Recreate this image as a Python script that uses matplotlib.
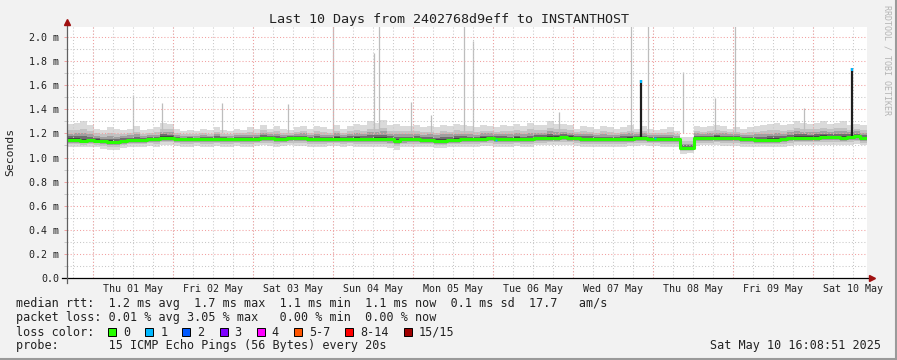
import numpy as np
import matplotlib
matplotlib.use('Agg')
import matplotlib.pyplot as plt
from matplotlib.lines import Line2D
from matplotlib.patches import Rectangle

plt.rcParams['font.family'] = 'DejaVu Sans Mono'

# ---- data (ms), 2 hour bins starting at 2025-04-30 16:08:51 ----
start = np.datetime64('2025-04-30T16:08:51')
end = np.datetime64('2025-05-10T16:08:51')

median = [
    1.145, 1.145, 1.14, 1.145,
    1.14, 1.135, 1.13, 1.13, 1.14, 1.145, 1.145, 1.145, 1.15, 1.15, 1.165, 1.165,
    1.155, 1.15, 1.15, 1.15, 1.15, 1.15, 1.155, 1.15, 1.15, 1.155, 1.155, 1.15,
    1.155, 1.16, 1.16, 1.155, 1.155, 1.16, 1.16, 1.16, 1.155, 1.155, 1.15, 1.155,
    1.155, 1.15, 1.155, 1.155, 1.15, 1.15, 1.155, 1.155, 1.15, 1.14, 1.15, 1.15,
    1.15, 1.145, 1.145, 1.14, 1.14, 1.145, 1.145, 1.15, 1.15, 1.15, 1.155, 1.16,
    1.155, 1.15, 1.15, 1.155, 1.15, 1.15, 1.16, 1.16, 1.165, 1.165, 1.17, 1.165,
    1.16, 1.155, 1.155, 1.15, 1.15, 1.15, 1.15, 1.155, 1.155, 1.16, 1.16, 1.155,
    1.155, 1.155, 1.15, 1.15, 1.08, 1.08, 1.16, 1.16, 1.16, 1.165, 1.16, 1.16,
    1.16, 1.155, 1.15, 1.145, 1.145, 1.145, 1.145, 1.15, 1.16, 1.165, 1.165, 1.165,
    1.165, 1.17, 1.17, 1.17, 1.165, 1.17, 1.175, 1.16,
]
smoke_hi = [
    1.28, 1.29, 1.30, 1.27,
    1.24, 1.23, 1.25, 1.24, 1.23, 1.24, 1.26, 1.23, 1.24, 1.25, 1.29, 1.28,
    1.24, 1.22, 1.23, 1.22, 1.24, 1.23, 1.25, 1.23, 1.22, 1.24, 1.23, 1.25,
    1.24, 1.27, 1.24, 1.26, 1.24, 1.23, 1.25, 1.26, 1.24, 1.26, 1.25, 1.24,
    1.27, 1.24, 1.26, 1.28, 1.27, 1.30, 1.29, 1.31, 1.27, 1.28, 1.26, 1.26,
    1.27, 1.25, 1.26, 1.25, 1.27, 1.26, 1.28, 1.27, 1.26, 1.25, 1.27, 1.26,
    1.25, 1.27, 1.26, 1.28, 1.26, 1.29, 1.27, 1.27, 1.30, 1.28, 1.28, 1.27,
    1.24, 1.26, 1.25, 1.24, 1.26, 1.25, 1.24, 1.25, 1.27, 1.24, 1.26, 1.24,
    1.23, 1.24, 1.25, 1.22, 1.17, 1.17, 1.26, 1.25, 1.26, 1.27, 1.26, 1.24,
    1.25, 1.24, 1.25, 1.26, 1.27, 1.28, 1.29, 1.27, 1.28, 1.30, 1.29, 1.28,
    1.29, 1.30, 1.28, 1.29, 1.30, 1.27, 1.28, 1.27,
]
smoke_lo = [
    1.09, 1.09, 1.085, 1.09,
    1.085, 1.07, 1.06, 1.065, 1.08, 1.085, 1.09, 1.09, 1.095, 1.09, 1.10, 1.10,
    1.095, 1.09, 1.09, 1.095, 1.09, 1.09, 1.095, 1.09, 1.09, 1.095, 1.09, 1.09,
    1.095, 1.10, 1.095, 1.09, 1.095, 1.10, 1.095, 1.095, 1.09, 1.09, 1.09, 1.095,
    1.095, 1.09, 1.095, 1.09, 1.09, 1.09, 1.085, 1.09, 1.08, 1.06, 1.085, 1.09,
    1.09, 1.085, 1.085, 1.08, 1.08, 1.085, 1.09, 1.09, 1.09, 1.09, 1.095, 1.095,
    1.09, 1.09, 1.09, 1.095, 1.09, 1.09, 1.10, 1.10, 1.10, 1.10, 1.105, 1.10,
    1.095, 1.09, 1.09, 1.09, 1.09, 1.09, 1.09, 1.09, 1.095, 1.095, 1.10, 1.095,
    1.095, 1.09, 1.09, 1.09, 1.03, 1.035, 1.095, 1.10, 1.10, 1.10, 1.095, 1.095,
    1.095, 1.09, 1.09, 1.085, 1.085, 1.085, 1.09, 1.09, 1.095, 1.10, 1.10, 1.10,
    1.10, 1.10, 1.105, 1.10, 1.10, 1.105, 1.11, 1.10,
]

# single pings far above the smoke
spike_times = ['2025-05-01T12:00', '2025-05-01T20:40', '2025-05-02T14:38',
               '2025-05-03T10:26', '2025-05-03T23:55', '2025-05-04T12:15',
               '2025-05-04T13:45', '2025-05-04T23:20', '2025-05-05T05:20',
               '2025-05-05T15:15', '2025-05-05T17:57', '2025-05-06T19:45',
               '2025-05-07T17:20', '2025-05-07T22:26', '2025-05-08T08:56',
               '2025-05-08T18:32', '2025-05-09T00:32', '2025-05-09T21:14']
spike_vals = [1.52, 1.45, 1.45, 1.44, 2.1, 1.87, 2.1, 1.46, 1.35,
              2.1, 1.97, 1.38, 2.1, 2.1, 1.71, 1.49, 2.1, 1.41]

# median jumps during loss
jump_times = ['2025-05-07T20:20', '2025-05-10T11:38']
jump_vals = [1.645, 1.74]
loss1_times = ['2025-05-06T00:50', '2025-05-08T00:32']
loss1_vals = [1.145, 1.16]

loss_names = ['0', '1', '2', '3', '4', '5-7', '8-14', '15/15']
loss_colors = ['#26ff00', '#00b8ff', '#0059ff', '#7e00ff', '#ff00ff',
               '#ff5500', '#ff0000', '#a00000']

rtt_line = 'median rtt:  1.2 ms avg  1.7 ms max  1.1 ms min  1.1 ms now  0.1 ms sd  17.7   am/s'
loss_line = 'packet loss: 0.01 % avg 3.05 % max   0.00 % min  0.00 % now'
probe_line = 'probe:       15 ICMP Echo Pings (56 Bytes) every 20s'
stamp = 'Sat May 10 16:08:51 2025'
title = 'Last 10 Days from 2402768d9eff to INSTANTHOST'

W, H = 897, 360
TXT = '#222222'
LEG = 8.5


def fx(px):
    return px / W


def fy(py):
    return 1 - py / H


fig = plt.figure(figsize=(W / 100, H / 100), dpi=100, facecolor='#f2f2f2')
ax = fig.add_axes([fx(67), fy(278), 800 / W, 251 / H])
ax.set_facecolor('white')

t = start + np.arange(len(median) + 1) * np.timedelta64(2, 'h')
med = np.append(median, median[-1])
hi = np.append(smoke_hi, smoke_hi[-1])
lo = np.append(smoke_lo, smoke_lo[-1])

# smoke, outer layers light, inner dark
for frac, col in [(1.0, '#dadada'), (0.6, '#c2c2c2'), (0.4, '#a0a0a0'),
                  (0.22, '#6e6e6e'), (0.1, '#454545')]:
    ax.fill_between(t, med - frac * (med - lo), med + frac * (hi - med),
                    step='post', color=col, linewidth=0, zorder=1)

st = np.array(spike_times, dtype='datetime64[m]')
ax.vlines(st, 1.2, spike_vals, color='#bdbdbd', lw=0.9, zorder=1)

# grid
midnights = np.datetime64('2025-05-01') + np.arange(10) * np.timedelta64(1, 'D')
quarters = np.datetime64('2025-04-30T18:00') + np.arange(40) * np.timedelta64(6, 'h')
for q in quarters:
    if q < end:
        ax.axvline(q, color='#c8c8c8', lw=0.75, ls=(0, (1, 2)), zorder=2)
for m in midnights:
    ax.axvline(m, color='#f2a0a0', lw=0.75, ls=(0, (1, 2)), zorder=2)
for i in range(1, 21):
    col = '#f2a0a0' if i % 2 == 0 else '#c8c8c8'
    ax.axhline(i / 10, color=col, lw=0.75, ls=(0, (1, 2)), zorder=2)

# median line
jt = np.array(jump_times, dtype='datetime64[m]')
ax.vlines(jt, 1.16, jump_vals, color='#1e1e1e', lw=1.6, zorder=3)
ax.step(t, med, where='post', color='#26ff00', lw=2.2, zorder=4)
ax.vlines(jt, np.array(jump_vals) - 0.025, jump_vals, color='#00b8ff', lw=1.6, zorder=5)
lt = np.array(loss1_times, dtype='datetime64[m]')
ax.plot(lt, loss1_vals, 's', ms=1.4, mew=0, color='#00b8ff', zorder=5)

ax.set_xlim(start, end)
ax.set_ylim(0, 2.083)
for s in ax.spines.values():
    s.set_visible(False)

# y ticks
yt = np.arange(0, 11) * 0.2
ax.set_yticks(yt)
ax.set_yticks(np.arange(0, 21) * 0.1, minor=True)
ax.set_yticklabels(['0.0'] + ['%.1f m' % v for v in yt[1:]])
ax.tick_params(axis='y', which='major', length=2.5, width=0.7, color='#f2a0a0',
               pad=3, labelsize=7.2, labelcolor=TXT)
ax.tick_params(axis='y', which='minor', length=2.5, width=0.7, color='#c8c8c8')

# x labels at noon
noons = midnights + np.timedelta64(12, 'h')
labels = []
for n in noons:
    d = n.astype('datetime64[D]').astype(object)
    labels.append(d.strftime('%a %d %b'))
ax.set_xticks(noons)
ax.set_xticklabels(labels)
ax.tick_params(axis='x', length=0, pad=4.5, labelsize=7.2, labelcolor=TXT)

# axes with arrows
ax.plot([-0.006, 1.004], [0, 0], color='black', lw=0.9, transform=ax.transAxes,
        clip_on=False, zorder=6)
ax.plot([1.006], [0], marker='>', ms=4, color='#a01010', transform=ax.transAxes,
        clip_on=False, zorder=6)
ax.plot([0, 0], [-0.02, 1.01], color='#606060', lw=0.9, transform=ax.transAxes,
        clip_on=False, zorder=6)
ax.plot([0], [1.02], marker='^', ms=4, color='#a01010', transform=ax.transAxes,
        clip_on=False, zorder=6)

# texts
fig.text(0.5, fy(19), title, ha='center', va='center', fontsize=9.6, color=TXT)
fig.text(fx(10), fy(152), 'Seconds', rotation=90, ha='center', va='center',
         fontsize=8.2, color=TXT)
fig.text(fx(887), fy(5), 'RRDTOOL / TOBI OETIKER', rotation=270, ha='center',
         va='top', fontsize=6, color='#b4b4b4')

fig.text(fx(16), fy(304), rtt_line, va='center', fontsize=LEG, color=TXT)
fig.text(fx(16), fy(318), loss_line, va='center', fontsize=LEG, color=TXT)
fig.text(fx(16), fy(332), 'loss color:', va='center', fontsize=LEG, color=TXT)
fig.text(fx(16), fy(346), probe_line, va='center', fontsize=LEG, color=TXT)
fig.text(fx(881), fy(346), stamp, ha='right', va='center', fontsize=LEG, color=TXT)

x = 108
for name, col in zip(loss_names, loss_colors):
    fig.add_artist(Rectangle((fx(x), fy(336)), 8 / W, 8 / H, transform=fig.transFigure,
                             facecolor=col, edgecolor='black', lw=0.7))
    fig.text(fx(x + 15), fy(332), name, va='center', fontsize=LEG, color=TXT)
    x = x + 30 + 7.17 * len(name)

# frame
fig.add_artist(Line2D([0, 1], [fy(359), fy(359)], transform=fig.transFigure,
                      color='#9a9a9a', lw=1.5))
fig.add_artist(Line2D([fx(896), fx(896)], [0, 1], transform=fig.transFigure,
                      color='#9a9a9a', lw=1.5))

plt.savefig('out.png', dpi=100, facecolor=fig.get_facecolor())
plt.close(fig)
